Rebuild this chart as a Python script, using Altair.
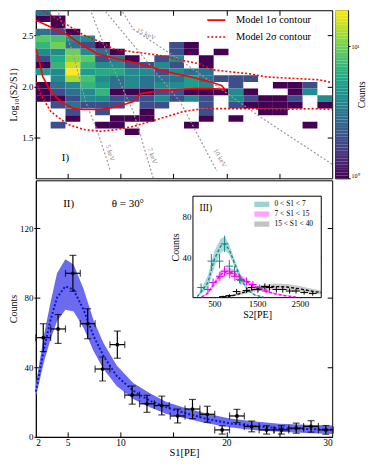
import altair as alt
import numpy as np
import pandas as pd

FONT = "Liberation Serif"
W, H_TOP, H_BOT = 298, 169, 258

# ---------------- Panel I : heat map (S1 bins x log10(S2/S1) bins) ----------------
S1_EDGE0, S1_BIN = 2.0, 1.4
LR_EDGE0, LR_BIN = 2.5, 0.065
# per S1 column: (row index, counts)
heat_columns = [
    [(3, 3), (2, 1), (0, 3), (-1, 9), (-2, 7), (-3, 4), (-4, 2), (-5, 1), (-6, 5), (-8, 1), (-9, 1), (-10, 1)],
    [(2, 1), (1, 1), (0, 2), (-1, 8), (-2, 10), (-3, 4), (-4, 6), (-5, 7), (-6, 4), (-7, 4), (-8, 3), (-9, 2), (-10, 1), (-11, 2), (-14, 2)],
    [(0, 1), (-1, 4), (-2, 3), (-3, 10), (-4, 11), (-5, 15), (-6, 19), (-7, 13), (-8, 4), (-9, 3), (-10, 2), (-11, 3), (-12, 2), (-13, 1)],
    [(-1, 4), (-2, 2), (-3, 4), (-4, 9), (-5, 7), (-6, 5), (-7, 8), (-8, 7), (-9, 4), (-10, 4), (-11, 2)],
    [(-2, 1), (-3, 3), (-4, 2), (-5, 4), (-6, 6), (-7, 4), (-8, 5), (-9, 7), (-10, 4), (-11, 2), (-12, 2), (-14, 1)],
    [(-3, 1), (-4, 3), (-5, 4), (-6, 6), (-7, 3), (-8, 3), (-9, 1), (-10, 2), (-11, 2), (-13, 1), (-14, 1)],
    [(-4, 1), (-5, 2), (-6, 4), (-7, 4), (-8, 4), (-9, 1), (-10, 2), (-13, 1), (-15, 1)],
    [(-5, 2), (-6, 4), (-7, 3), (-8, 3), (-9, 1), (-10, 2), (-11, 2), (-12, 1), (-13, 1)],
    [(-4, 2), (-5, 4), (-6, 2), (-7, 3), (-8, 4), (-9, 2), (-10, 4), (-11, 2)],
    [(-2, 2), (-3, 2), (-4, 4), (-5, 2), (-6, 4), (-7, 3), (-8, 4), (-9, 2), (-10, 2)],
    [(-2, 1), (-3, 1), (-6, 3), (-7, 5), (-8, 5), (-9, 1), (-10, 4), (-14, 1)],
    [(-4, 1), (-5, 1), (-6, 3), (-7, 3), (-8, 4), (-9, 1), (-10, 2), (-11, 2), (-12, 2), (-13, 1)],
    [(-3, 1), (-7, 2), (-9, 1)],
    [(-7, 2), (-8, 2), (-9, 4), (-10, 4), (-11, 2), (-13, 1)],
    [(-7, 2), (-9, 1), (-10, 2), (-11, 1)],
    [(-10, 1), (-11, 1), (-12, 1)],
    [(-8, 1), (-10, 1), (-11, 1), (-12, 1)],
    [(-8, 1), (-9, 1), (-10, 2), (-11, 1)],
    [(-8, 2), (-9, 4), (-14, 1)],
    [(-10, 4), (-11, 1)],
]
COUNT_MAX = 18.8

# gray iso-energy lines (S1, log10(S2/S1))
e_names = ["5 keV", "7 keV", "10 keV", "15 keV"]
e_s1 = [[3.88, 5.48, 6.70, 7.83, 9.05],
        [6.98, 9.05, 11.21, 13.09],
        [8.11, 11.21, 15.63, 19.11],
        [9.80, 11.21, 13.75, 15.63, 23.15, 30.0]]
e_lr = [[2.794, 2.338, 1.852, 1.561, 1.173],
        [2.794, 2.241, 1.754, 1.104],
        [2.794, 2.406, 1.852, 1.173],
        [2.794, 2.561, 2.386, 2.260, 1.706, 1.240]]
e_lab_s1 = [9.0, 13.0, 19.4, 12.4]
e_lab_lr = [1.35, 1.32, 1.30, 2.51]
e_lab_ang = [75, 70, 60, 25]

# model contours
c1_s1 = [2.00, 3.41, 5.01, 6.23, 7.83, 9.71, 11.87, 14.41, 16.57, 18.45, 19.58, 19.86, 18.73, 16.85,
         15.25, 13.09, 11.87, 11.21, 9.71, 8.11, 6.51, 5.57, 4.35, 3.41, 2.66, 2.19, 2.00]
c1_lr = [2.649, 2.581, 2.503, 2.416, 2.318, 2.270, 2.221, 2.144, 2.095, 2.047, 2.008, 1.969, 1.979, 1.979,
         1.969, 1.950, 1.930, 1.852, 1.804, 1.775, 1.775, 1.784, 1.852, 1.950, 2.095, 2.309, 2.367]
c2u_s1 = [2.00, 3.41, 5.01, 6.51, 8.11, 9.33, 11.21, 13.47, 15.63, 17.51, 18.73, 20.33, 22.21, 23.71, 25.31, 26.91, 28.79, 30.0]
c2u_lr = [2.775, 2.697, 2.600, 2.503, 2.435, 2.367, 2.338, 2.309, 2.260, 2.221, 2.163, 2.144, 2.124, 2.095, 2.085, 2.076, 2.066, 2.037]
c2l_s1 = [2.00, 2.47, 3.41, 5.01, 6.51, 8.11, 9.71, 11.21, 12.81, 14.41, 15.91, 17.23, 18.73, 21.92, 25.03, 28.13, 30.0]
c2l_lr = [2.047, 1.920, 1.755, 1.629, 1.580, 1.561, 1.580, 1.610, 1.658, 1.707, 1.755, 1.775, 1.784, 1.784, 1.775, 1.784, 1.775]
contour_names = ["Model 1σ contour", "Model 2σ contour"]

# ---------------- Panel II : S1 spectrum ----------------
s1_pts = [2.7, 4.1, 5.5, 6.9, 8.3, 9.7, 11.1, 12.5, 13.9, 15.4, 16.8, 18.2, 19.6, 21.0, 22.4, 23.8, 25.2, 26.6, 28.0, 29.4]
cnt_pts = [57, 62, 94, 65, 39, 53, 24, 19, 18, 12, 16, 13, 4, 12, 6, 4, 4, 5, 6, 4]
cnt_err = [8.0, 8.3, 10.3, 8.6, 6.9, 7.8, 5.2, 4.9, 5.4, 4.0, 5.5, 4.6, 2.4, 3.8, 3.1, 2.4, 2.4, 2.9, 3.3, 2.5]
S1_HALF = 0.7

band_s1 = [2.0, 2.75, 3.38, 4.0, 4.79, 5.57, 6.51, 7.45, 8.39, 9.64, 11.2, 12.78, 14.34, 15.9, 18.0, 20.3, 22.5, 25.0, 27.5, 30.0]
band_up = [30, 58, 77, 94, 102, 99, 85, 67, 54, 41, 31, 25, 20, 17, 13.5, 10.5, 9, 7.5, 7, 6.5]
band_mid = [26, 50, 67, 80, 86.5, 84.6, 73, 58, 46.5, 35, 26.5, 20.7, 17, 14, 10.5, 7.8, 6.3, 5, 4.5, 4.2]
band_lo = [23, 42.7, 56, 66.5, 73, 72, 62.7, 49.3, 39, 29.3, 21.7, 17, 13.1, 11, 8, 5.5, 4, 3, 2.2, 1.7]

# ---------------- Panel III : S2 spectra (inset) ----------------
grp_names = ["0 < S1 < 7", "7 < S1 < 15", "15 < S1 < 40"]
grp_band_col = ["#2a9a9a", "#ff33ff", "#7a7a7a"]
grp_line_col = ["#168585", "#ee00ee", "#000000"]

in_s2 = [[100, 200, 350, 500, 650, 750, 850, 1000, 1150, 1300, 1450, 1650],
         [200, 350, 500, 650, 800, 950, 1100, 1300, 1500, 1700, 1900, 2100, 2400],
         [700, 1000, 1300, 1600, 1900, 2200, 2500, 2800, 3000]]
in_up = [[2, 9, 22, 46, 58, 60, 52, 35, 19, 8, 3, 1],
         [1, 6, 17, 27, 30, 28, 23, 17, 12, 8, 5, 3, 1],
         [0.5, 4, 9, 12.5, 14, 13.5, 11.5, 8.5, 7]]
in_mid = [[1, 6, 15, 38, 51, 53, 47, 31, 16, 7, 2.5, 0.6],
          [0.5, 4.5, 14, 23, 26, 24.5, 20, 14.5, 10, 6.5, 4, 2.2, 0.8],
          [0.2, 2.7, 6.8, 9.8, 11, 10.5, 8.7, 6.2, 5]]
in_lo = [[0.5, 4, 9, 30, 44, 47, 42, 28, 14, 6, 2, 0.3],
         [0, 3, 11, 19, 22, 21, 17, 12, 8, 5, 3, 1.5, 0.5],
         [0, 1.5, 4.5, 7, 8, 7.5, 6, 4, 3]]
pt_s2 = [[190, 430, 620, 740, 850, 970, 1120],
         [350, 470, 630, 740, 860, 980, 1090, 1250, 1400, 1560, 1710],
         [700, 850, 1020, 1250, 1370, 1520, 1680, 1790, 1950, 2100, 2260, 2410, 2600, 2800]]
pt_cnt = [[10, 36, 36, 53, 31, 26, 17],
          [8, 15, 21, 26, 24, 21, 18, 16, 13, 10, 6.5],
          [1, 2, 6, 7, 10, 8, 11, 10, 8, 8, 6.5, 6.5, 5, 4]]
pt_err = [[4, 7, 7, 8, 6, 5, 4],
          [3, 4, 4.5, 5, 5, 4.5, 4, 4, 3.5, 3, 2.5],
          [1, 1.5, 2.5, 2.5, 3, 3, 3, 3, 3, 3, 2.5, 2.5, 2, 2]]
S2_HALF = 90

# legend placement (data coordinates of each panel)
RED_LEG_S1 = (18.2, 19.9, 20.9)
RED_LEG_LR = [2.649, 2.484]
IN_LEG_S2 = (1435, 1784, 1907)
IN_LEG_C = [92, 82.4, 72.5]
IN_LEG_HALF = 2.6

# ================= build tables =================
rows = []
for ci, col in enumerate(heat_columns):
    for r, n in col:
        rows.append({"s1a": S1_EDGE0 + S1_BIN * ci, "s1b": S1_EDGE0 + S1_BIN * (ci + 1),
                     "lra": LR_EDGE0 + LR_BIN * r, "lrb": LR_EDGE0 + LR_BIN * (r + 1), "counts": n})
df_heat = pd.DataFrame(rows)

df_e = pd.DataFrame([{"E": n, "i": i, "s1": x, "lr": y}
                     for n, xs, ys in zip(e_names, e_s1, e_lr) for i, (x, y) in enumerate(zip(xs, ys))])
df_red = pd.DataFrame(
    [{"kind": contour_names[0], "br": "c1", "i": i, "s1": x, "lr": y} for i, (x, y) in enumerate(zip(c1_s1, c1_lr))]
    + [{"kind": contour_names[1], "br": "c2u", "i": i, "s1": x, "lr": y} for i, (x, y) in enumerate(zip(c2u_s1, c2u_lr))]
    + [{"kind": contour_names[1], "br": "c2l", "i": i, "s1": x, "lr": y} for i, (x, y) in enumerate(zip(c2l_s1, c2l_lr))])
df_red_leg = pd.DataFrame({"kind": contour_names, "lr": RED_LEG_LR,
                           "a": RED_LEG_S1[0], "b": RED_LEG_S1[1], "t": RED_LEG_S1[2]})

df_pts = pd.DataFrame({"s1": s1_pts, "c": cnt_pts, "e": cnt_err})
df_pts["lo"] = df_pts.c - df_pts.e
df_pts["hi"] = df_pts.c + df_pts.e
df_pts["xl"] = df_pts.s1 - S1_HALF
df_pts["xh"] = df_pts.s1 + S1_HALF
df_band = pd.DataFrame({"s1": band_s1, "up": band_up, "mid": band_mid, "lo": band_lo})

df_in = pd.DataFrame([{"grp": g, "col": lc, "s2": x, "up": u, "mid": m, "lo": l}
                      for g, lc, xs, us, ms, ls in zip(grp_names, grp_line_col, in_s2, in_up, in_mid, in_lo)
                      for x, u, m, l in zip(xs, us, ms, ls)])
df_inp = pd.DataFrame([{"grp": g, "col": lc, "s2": x, "c": c, "e": e}
                       for g, lc, xs, cs, es in zip(grp_names, grp_line_col, pt_s2, pt_cnt, pt_err)
                       for x, c, e in zip(xs, cs, es)])
df_inp["lo"] = (df_inp.c - df_inp.e).clip(lower=0)
df_inp["hi"] = df_inp.c + df_inp.e
df_inp["xl"] = df_inp.s2 - S2_HALF
df_inp["xh"] = df_inp.s2 + S2_HALF
df_in_leg = pd.DataFrame({"grp": grp_names, "c": IN_LEG_C})
df_in_leg["lo"] = df_in_leg.c - IN_LEG_HALF
df_in_leg["hi"] = df_in_leg.c + IN_LEG_HALF
df_in_leg["a"], df_in_leg["b"], df_in_leg["t"] = IN_LEG_S2

# ================= top panel =================
x_top = alt.Scale(domain=[2, 30], nice=False, zero=False)
y_top = alt.Scale(domain=[1.102, 2.746], nice=False, zero=False)
cscale = alt.Scale(type="log", scheme="viridis", domain=[1, COUNT_MAX])
df_one = pd.DataFrame({"s1": [16.0], "lr": [2.0], "c": [60.0], "s2": [1500.0], "c2": [50.0]})
XT = alt.X("s1:Q", scale=x_top, axis=None)
YT = alt.Y("lr:Q", scale=y_top, axis=None)

heat = alt.Chart(df_heat).mark_rect(clip=True).encode(
    x=alt.X("s1a:Q", scale=x_top, axis=None), x2="s1b:Q",
    y=alt.Y("lra:Q", scale=y_top, axis=None), y2="lrb:Q",
    color=alt.Color("counts:Q", scale=cscale, legend=None))

gray = alt.Chart(df_e).mark_line(color="#9a9a9a", strokeDash=[2, 2], strokeWidth=1.2, clip=True).encode(
    x=XT, y=YT, detail="E:N", order="i:Q")

dash_scale = alt.Scale(domain=contour_names, range=[[1, 0], [2, 2]])
red = alt.Chart(df_red).mark_line(color="red", strokeWidth=1.6, clip=True).encode(
    x=XT, y=YT, strokeDash=alt.StrokeDash("kind:N", scale=dash_scale, legend=None),
    detail="br:N", order="i:Q")
red_leg_line = alt.Chart(df_red_leg).mark_rule(color="red", strokeWidth=1.6).encode(
    x=alt.X("a:Q", scale=x_top, axis=None), x2="b:Q", y=YT,
    strokeDash=alt.StrokeDash("kind:N", scale=dash_scale, legend=None))
red_leg_text = alt.Chart(df_red_leg).mark_text(align="left", baseline="middle", fontSize=10.5).encode(
    x=alt.X("t:Q", scale=x_top, axis=None), y=YT, text="kind:N")

e_texts = [alt.Chart(pd.DataFrame({"s1": [x], "lr": [y], "t": [t]})).mark_text(
    angle=a, fontSize=7, color="#8a8a8a").encode(x=XT, y=YT, text="t:N")
    for x, y, t, a in zip(e_lab_s1, e_lab_lr, e_names, e_lab_ang)]

lab_I = alt.Chart(pd.DataFrame({"s1": [4.8], "lr": [1.30], "t": ["I)"]})).mark_text(fontSize=11).encode(
    x=XT, y=YT, text="t:N")

tick5 = [5, 10, 15, 20, 25]
top_ax1 = alt.Chart(df_one).mark_point(opacity=0).encode(
    x=alt.X("s1:Q", scale=x_top, axis=alt.Axis(orient="bottom", offset=-H_TOP, values=tick5, labels=False,
                                               domain=False, tickSize=5, title=None)),
    y=alt.Y("lr:Q", scale=y_top, axis=alt.Axis(orient="left", values=[1.5, 2.0, 2.5], format=".1f",
                                               tickSize=2, labelPadding=1, labelFontSize=9,
                                               title="Log₁₀(S2/S1)", titleFontSize=10, titleX=-17)))
top_ax2 = alt.Chart(df_one).mark_point(opacity=0).encode(
    x=alt.X("s1:Q", scale=x_top, axis=alt.Axis(orient="top", offset=-H_TOP, values=tick5, labels=False,
                                               domain=False, tickSize=5, title=None)),
    y=alt.Y("lr:Q", scale=y_top, axis=alt.Axis(orient="left", offset=-W, values=[1.5, 2.0, 2.5],
                                               labels=False, domain=False, tickSize=5, title=None)))
top_ax3 = alt.Chart(df_one).mark_point(opacity=0).encode(
    x=XT,
    y=alt.Y("lr:Q", scale=y_top, axis=alt.Axis(orient="right", offset=-W, values=[1.5, 2.0, 2.5],
                                               labels=False, domain=False, tickSize=4, title=None)))

top = alt.layer(heat, gray, red, red_leg_line, red_leg_text, *e_texts, lab_I, top_ax1, top_ax2, top_ax3
                ).resolve_axis(x="independent", y="independent").properties(width=W, height=H_TOP)

# colour bar as its own narrow panel
cb_edges = np.logspace(0, np.log10(COUNT_MAX), 61)
df_cb = pd.DataFrame({"v0": cb_edges[:-1], "v1": cb_edges[1:], "a": 0.0, "b": 1.0})
df_cb["v"] = np.sqrt(df_cb.v0 * df_cb.v1)
cbar = alt.Chart(df_cb).mark_rect().encode(
    x=alt.X("a:Q", scale=alt.Scale(domain=[0, 1], nice=False, zero=False), axis=None), x2="b:Q",
    y=alt.Y("v0:Q", scale=alt.Scale(type="log", domain=[1, COUNT_MAX], nice=False),
            axis=alt.Axis(orient="right", values=[1, 10], tickSize=2, labelPadding=1, labelFontSize=6,
                          labelFlush=True, domain=False,
                          labelExpr="datum.value == 1 ? '10⁰' : '10¹'",
                          title="Counts", titleFontSize=9.5, titleAngle=270, titleAlign="center",
                          titleBaseline="middle", titleX=13, titleY=H_TOP / 2)),
    y2="v1:Q",
    color=alt.Color("v:Q", scale=cscale, legend=None)).properties(width=13, height=H_TOP)

top_row = alt.hconcat(top, cbar, spacing=1)

# ================= bottom panel =================
x_bot = alt.Scale(domain=[2, 30], nice=False, zero=False)
y_bot = alt.Scale(domain=[0, H_BOT / 1.75], nice=False, zero=False)
XN = alt.X("s1:Q", scale=x_bot, axis=None)

band = alt.Chart(df_band).mark_area(color="#6b6bf0", opacity=1).encode(
    x=alt.X("s1:Q", scale=x_bot, axis=alt.Axis(values=[2, 5, 10, 20, 30], tickSize=0, labelPadding=1,
                                               labelFontSize=9.5, title="S1[PE]", titleFontSize=10.5,
                                               titlePadding=0)),
    y=alt.Y("up:Q", scale=y_bot, axis=alt.Axis(orient="left", values=[0, 40, 80, 120], tickSize=2,
                                               labelPadding=1, labelFontSize=9, title="Counts",
                                               titleFontSize=10, titleX=-17)),
    y2="lo:Q")
mline = alt.Chart(df_band).mark_line(color="#0a14d2", strokeDash=[2, 2], strokeWidth=2).encode(
    x=XN, y=alt.Y("mid:Q", scale=y_bot, axis=None))
vbar = alt.Chart(df_pts).mark_rule(color="black", strokeWidth=1.2).encode(
    x=XN, y=alt.Y("lo:Q", scale=y_bot, axis=None), y2="hi:Q")
hbar = alt.Chart(df_pts).mark_rule(color="black", strokeWidth=1.2).encode(
    x=alt.X("xl:Q", scale=x_bot, axis=None), x2="xh:Q", y=alt.Y("c:Q", scale=y_bot, axis=None))
cap_lo = alt.Chart(df_pts).mark_tick(color="black", orient="horizontal", size=7, thickness=1.2).encode(
    x=XN, y=alt.Y("lo:Q", scale=y_bot, axis=None))
cap_hi = alt.Chart(df_pts).mark_tick(color="black", orient="horizontal", size=7, thickness=1.2).encode(
    x=XN, y=alt.Y("hi:Q", scale=y_bot, axis=None))
cap_l = alt.Chart(df_pts).mark_tick(color="black", orient="vertical", size=7, thickness=1.2).encode(
    x=alt.X("xl:Q", scale=x_bot, axis=None), y=alt.Y("c:Q", scale=y_bot, axis=None))
cap_r = alt.Chart(df_pts).mark_tick(color="black", orient="vertical", size=7, thickness=1.2).encode(
    x=alt.X("xh:Q", scale=x_bot, axis=None), y=alt.Y("c:Q", scale=y_bot, axis=None))
dots = alt.Chart(df_pts).mark_point(filled=True, color="black", size=14, opacity=1).encode(
    x=XN, y=alt.Y("c:Q", scale=y_bot, axis=None))
lab_II = alt.Chart(pd.DataFrame({"s1": [5.1, 10.7], "c": [134, 134], "t": ["II)", "θ = 30°"]})).mark_text(
    fontSize=11).encode(x=XN, y=alt.Y("c:Q", scale=y_bot, axis=None), text="t:N")

bot_ax2 = alt.Chart(df_one).mark_point(opacity=0).encode(
    x=alt.X("s1:Q", scale=x_bot, axis=alt.Axis(orient="top", offset=-H_BOT, values=tick5, labels=False,
                                               domain=False, tickSize=5, title=None)),
    y=alt.Y("c:Q", scale=y_bot, axis=alt.Axis(orient="right", offset=-W, values=[0, 40, 80, 120],
                                              labels=False, domain=False, tickSize=4, title=None)))
bot_ax3 = alt.Chart(df_one).mark_point(opacity=0).encode(
    x=XN,
    y=alt.Y("c:Q", scale=y_bot, axis=alt.Axis(orient="left", offset=-W, values=[0, 40, 80, 120],
                                              labels=False, domain=False, tickSize=5, title=None)))

main = alt.layer(band, mline, hbar, vbar, cap_lo, cap_hi, cap_l, cap_r, dots, lab_II, bot_ax2, bot_ax3
                 ).resolve_axis(x="independent", y="independent")

# ----- inset -----
IN_L, IN_R, IN_TOP, IN_BOT = 158, 287, 16, 118
x_in = alt.Scale(domain=[0, 3000], range=[IN_L, IN_R], nice=False, zero=False)
y_in = alt.Scale(domain=[0, 100], range=[IN_BOT, IN_TOP], nice=False, zero=False)
XI = alt.X("s2:Q", scale=x_in, axis=None)
grp_scale = alt.Scale(domain=grp_names, range=grp_band_col)
in_xt = [500, 1500, 2500]
in_yt = [40, 80]

frame = alt.Chart(pd.DataFrame({"a": [0], "b": [3000], "c": [0], "d": [100]})).mark_rect(
    fill="white", stroke="black", strokeWidth=1).encode(
    x=alt.X("a:Q", scale=x_in, axis=alt.Axis(orient="bottom", offset=-(H_BOT - IN_BOT), values=in_xt,
                                             format="d", tickSize=0, labelPadding=2, labelFontSize=9,
                                             domain=False, title="S2[PE]", titleFontSize=10, titlePadding=1)),
    x2="b:Q",
    y=alt.Y("c:Q", scale=y_in, axis=alt.Axis(orient="left", offset=-IN_L, values=in_yt, tickSize=0,
                                             labelPadding=2, labelFontSize=9, domain=False,
                                             title="Counts", titleFontSize=10, titlePadding=2)),
    y2="d:Q")
in_ax2 = alt.Chart(df_one).mark_point(opacity=0).encode(
    x=alt.X("s2:Q", scale=x_in, axis=alt.Axis(orient="bottom", offset=-(H_BOT - IN_TOP), values=in_xt,
                                              labels=False, domain=False, tickSize=3, title=None)),
    y=alt.Y("c2:Q", scale=y_in, axis=alt.Axis(orient="left", offset=-IN_R, values=in_yt,
                                              labels=False, domain=False, tickSize=3, title=None)))
in_ax3 = alt.Chart(df_one).mark_point(opacity=0).encode(
    x=alt.X("s2:Q", scale=x_in, axis=alt.Axis(orient="top", offset=-IN_BOT, values=in_xt,
                                              labels=False, domain=False, tickSize=3, title=None)),
    y=alt.Y("c2:Q", scale=y_in, axis=alt.Axis(orient="right", offset=-(W - IN_L), values=in_yt,
                                              labels=False, domain=False, tickSize=3, title=None)))
in_band = alt.Chart(df_in).mark_area(opacity=0.4).encode(
    x=XI, y=alt.Y("up:Q", scale=y_in, axis=None, stack=None), y2="lo:Q",
    fill=alt.Fill("grp:N", scale=grp_scale, legend=None), detail="grp:N")
in_line = alt.Chart(df_in).mark_line(strokeDash=[3, 2], strokeWidth=1.3).encode(
    x=XI, y=alt.Y("mid:Q", scale=y_in, axis=None),
    stroke=alt.Stroke("col:N", scale=None), detail="grp:N")
in_v = alt.Chart(df_inp).mark_rule(strokeWidth=1).encode(
    x=XI, y=alt.Y("lo:Q", scale=y_in, axis=None), y2="hi:Q", stroke=alt.Stroke("col:N", scale=None))
in_h = alt.Chart(df_inp).mark_rule(strokeWidth=1).encode(
    x=alt.X("xl:Q", scale=x_in, axis=None), x2="xh:Q", y=alt.Y("c:Q", scale=y_in, axis=None),
    stroke=alt.Stroke("col:N", scale=None))
in_leg_box = alt.Chart(df_in_leg).mark_rect(opacity=0.45).encode(
    x=alt.X("a:Q", scale=x_in, axis=None), x2="b:Q",
    y=alt.Y("lo:Q", scale=y_in, axis=None), y2="hi:Q",
    fill=alt.Fill("grp:N", scale=grp_scale, legend=None))
in_leg_text = alt.Chart(df_in_leg).mark_text(align="left", baseline="middle", fontSize=7.5).encode(
    x=alt.X("t:Q", scale=x_in, axis=None), y=alt.Y("c:Q", scale=y_in, axis=None), text="grp:N")
lab_III = alt.Chart(pd.DataFrame({"s2": [300], "c": [88], "t": ["III)"]})).mark_text(fontSize=9.5).encode(
    x=XI, y=alt.Y("c:Q", scale=y_in, axis=None), text="t:N")

inset = alt.layer(frame, in_band, in_line, in_v, in_h, in_leg_box, in_leg_text, lab_III, in_ax2, in_ax3
                  ).resolve_axis(x="independent", y="independent")

bottom = alt.layer(main, inset).resolve_scale(x="independent", y="independent").properties(
    width=W, height=H_BOT)

chart = alt.vconcat(top_row, bottom, spacing=0).properties(
    padding={"left": 0, "top": 0, "right": 0, "bottom": 0}
).configure_axis(
    labelFont=FONT, titleFont=FONT, labelColor="black", titleColor="black", domainColor="black",
    tickColor="black", grid=False, titleFontWeight="normal"
).configure_view(stroke="black", strokeWidth=1
).configure_text(font=FONT)

chart.save("out.html", embed_options={"renderer": "svg", "actions": False})
